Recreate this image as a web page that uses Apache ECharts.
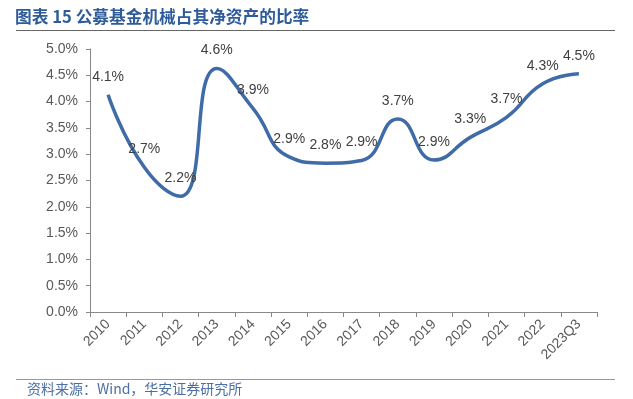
<!DOCTYPE html>
<html>
<head>
<meta charset="utf-8">
<script src="https://cdn.jsdelivr.net/npm/echarts@6/dist/echarts.min.js"></script>
<style>
  html, body { margin: 0; padding: 0; background: #fff; }
  #chart { width: 633px; height: 399px; }
</style>
</head>
<body>
<div id="chart"></div>
<script>
const categories = ['2010', '2011', '2012', '2013', '2014', '2015', '2016', '2017',
  '2018', '2019', '2020', '2021', '2022', '2023Q3'];
// 机械持仓占净资产比率 (%)
const ratio = [4.13, 2.75, 2.2, 4.63, 3.87, 2.95, 2.83, 2.88, 3.67, 2.89, 3.32, 3.7, 4.34, 4.53];
const labelText = ['4.1%', '2.7%', '2.2%', '4.6%', '3.9%', '2.9%', '2.8%', '2.9%',
  '3.7%', '2.9%', '3.3%', '3.7%', '4.3%', '4.5%'];

const titleText = '图表 15 公募基金机械占其净资产的比率';
const sourceText = '资料来源：Wind，华安证券研究所';

const chart = echarts.init(document.getElementById('chart'));
const font = '"Liberation Sans", Arial, "Noto Sans CJK SC", sans-serif';

chart.setOption({
  animation: false,
  grid: { left: 90, right: 36, top: 49, bottom: 87 },
  textStyle: { fontFamily: font },
  graphic: [
    {
      type: 'text', left: 15, top: 8,
      style: { text: titleText, fill: '#2E5C9A', font: 'bold 16.7px "Noto Sans CJK SC", sans-serif' }
    },
    {
      type: 'line', shape: { x1: 16, y1: 30.5, x2: 615, y2: 30.5 },
      style: { stroke: '#666', lineWidth: 1.2 }
    },
    {
      type: 'line', shape: { x1: 16, y1: 379.5, x2: 615, y2: 379.5 },
      style: { stroke: '#999', lineWidth: 1.2 }
    },
    {
      type: 'text', left: 27, top: 382,
      style: { text: sourceText, fill: '#4A6FA5', font: '14px "Noto Sans CJK SC", sans-serif' }
    }
  ],
  xAxis: {
    type: 'category',
    data: categories,
    boundaryGap: true,
    axisLine: { lineStyle: { color: '#888', width: 1 } },
    axisTick: { show: true, interval: 0, length: 5, lineStyle: { color: '#888' } },
    axisLabel: { interval: 0, rotate: 45, color: '#595959', fontSize: 14, margin: 10, fontFamily: font }
  },
  yAxis: {
    type: 'value',
    min: 0,
    max: 5,
    interval: 0.5,
    axisLine: { show: true, lineStyle: { color: '#888', width: 1 } },
    axisTick: { show: true, length: 4, lineStyle: { color: '#888' } },
    splitLine: { show: false },
    axisLabel: {
      color: '#595959', fontSize: 14, margin: 12, fontFamily: font,
      formatter: v => v.toFixed(1) + '%'
    }
  },
  series: [{
    type: 'line',
    data: ratio,
    smooth: 0.5,
    symbol: 'circle',
    symbolSize: 2,
    showSymbol: true,
    itemStyle: { color: 'rgba(0,0,0,0)', borderWidth: 0 },
    lineStyle: { color: '#3F6BA8', width: 3.5 },
    labelLayout: { hideOverlap: false },
    label: {
      show: true,
      position: 'top',
      distance: 10,
      color: '#404040',
      fontSize: 14,
      fontFamily: font,
      formatter: p => labelText[p.dataIndex]
    }
  }]
});
</script>
</body>
</html>
